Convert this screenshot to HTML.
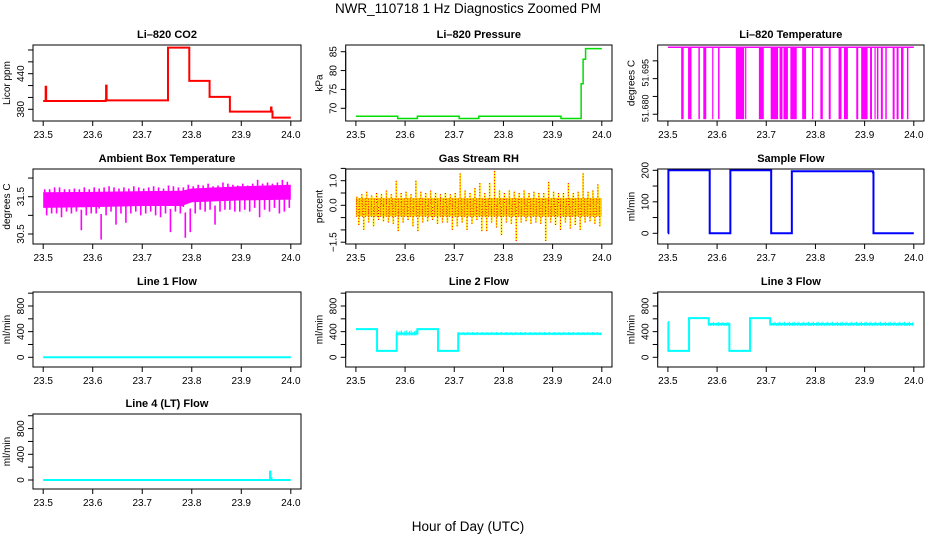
<!DOCTYPE html>
<html><head><meta charset="utf-8"><style>
html,body{margin:0;padding:0;background:#fff}
svg text{font-family:"Liberation Sans",sans-serif;fill:#000}
</style></head><body>
<svg id="c" width="936" height="540" viewBox="0 0 936 540" xmlns="http://www.w3.org/2000/svg">
<text x="468" y="13" font-size="13.5" text-anchor="middle">NWR_110718  1 Hz Diagnostics Zoomed PM</text>
<text x="468" y="531" font-size="13.5" text-anchor="middle">Hour of Day (UTC)</text>
</svg>
<script>
// ---- data ----
const xTicks = [23.5, 23.6, 23.7, 23.8, 23.9, 24.0];
const xTickLabels = ["23.5", "23.6", "23.7", "23.8", "23.9", "24.0"];
const co2X = [23.5, 23.504, 23.505, 23.506, 23.626, 23.627, 23.628, 23.752, 23.795, 23.836, 23.877, 23.96, 23.961, 23.963, 24.0];
const co2Y = [394, 394, 418, 394, 395, 420, 395, 484, 428, 401, 376, 383, 376, 366, 366];
const presX = [23.5, 23.585, 23.625, 23.71, 23.75, 23.917, 23.958, 23.962, 23.967, 24.0];
const presY = [67.9, 67.3, 67.9, 67.3, 67.9, 67.3, 76.5, 83, 85.8, 85.8];
const ltempHigh = 51.7057;
const ltempLow = 51.6754;
const ltempDropStart = [23.527,23.541,23.562,23.572,23.590,23.602,23.638,23.657,23.685,23.709,23.727,23.735,23.749,23.773,23.793,23.810,23.827,23.847,23.858,23.883,23.893,23.911,23.920,23.925,23.933,23.942,23.957,23.965,23.974,23.986];
const ltempDropEnd   = [23.532,23.548,23.565,23.578,23.592,23.605,23.655,23.659,23.695,23.724,23.733,23.744,23.762,23.781,23.795,23.815,23.831,23.853,23.866,23.887,23.906,23.915,23.922,23.928,23.937,23.945,23.961,23.969,23.979,23.989];
const ambMax = [31.7,31.7,31.75,31.75,31.7,31.7,31.72,31.7,31.75,31.7,31.75,31.72,31.75,31.78,31.75,31.72,31.75,31.72,31.78,31.75,31.72,31.75,31.78,31.75,31.72,31.8,31.78,31.75,31.75,31.82,31.78,31.82,31.8,31.85,31.78,31.8,31.88,31.85,31.82,31.8,31.85,31.8,31.85,31.95,31.85,31.88,31.85,31.88,31.95,31.9];
const ambMin = [31.0,31.05,31.05,30.95,31.1,31.05,31.1,30.6,31.0,31.05,31.05,30.35,31.0,31.1,30.75,31.05,30.8,31.05,31.1,31.0,31.05,31.1,31.0,30.95,31.05,30.55,31.1,31.05,30.4,30.55,31.05,31.15,31.1,31.15,30.75,31.1,31.15,31.15,31.1,31.1,31.15,31.1,31.2,30.95,31.15,31.1,31.2,31.05,31.1,31.2];
const ambCoreX = [23.5,23.6,23.7,23.78,23.8,23.9,24.0];
const ambCoreLo = [31.2,31.22,31.25,31.25,31.35,31.4,31.42];
const ambCoreHi = [31.62,31.63,31.65,31.66,31.72,31.78,31.82];
const rhMax = [0.35,0.45,0.55,0.4,0.5,0.45,0.6,0.45,1.0,0.5,0.55,0.45,1.0,0.55,0.5,0.6,0.5,0.45,0.5,0.45,0.5,1.3,0.6,0.5,0.7,0.9,0.5,0.9,1.4,0.6,0.5,0.6,0.55,0.5,0.6,0.5,0.55,0.5,0.5,0.95,0.55,0.5,0.5,0.9,0.5,0.55,1.3,0.55,0.6,0.85];
const rhMin = [-0.8,-1.0,-0.7,-0.85,-0.6,-0.65,-0.7,-0.75,-1.05,-0.7,-0.6,-0.85,-1.05,-0.7,-0.65,-0.6,-0.75,-0.7,-0.7,-1.0,-0.85,-0.7,-1.0,-0.75,-0.6,-1.05,-1.05,-0.7,-0.9,-1.2,-0.7,-0.75,-1.45,-0.7,-0.65,-0.75,-0.7,-0.75,-1.45,-0.7,-0.8,-1.0,-0.7,-0.95,-0.8,-1.0,-0.7,-0.65,-0.75,-0.85];
const rhCoreLo = -0.45;
const rhCoreHi = 0.3;
const sfX = [23.5, 23.501, 23.583, 23.585, 23.625, 23.627, 23.708, 23.71, 23.75, 23.752, 23.917, 23.918, 24.0];
const sfY = [0, 200, 200, 0, 0, 200, 200, 0, 0, 197, 193, 0, 0];
const l1X = [23.5, 24.0];
const l1Y = [0, 0];
const l2X = [23.5, 23.543, 23.583, 23.625, 23.667, 23.708, 24.0];
const l2Y = [440, 100, 370, 440, 100, 370, 370];
const l2BandStart = [23.583, 23.708];
const l2BandEnd = [23.625, 24.0];
const l2BandLo = [340, 345];
const l2BandHi = [420, 395];
const l3X = [23.5, 23.501, 23.543, 23.583, 23.625, 23.667, 23.708, 24.0];
const l3Y = [550, 100, 610, 520, 100, 610, 520, 520];
const l3BandStart = [23.583, 23.708];
const l3BandEnd = [23.625, 24.0];
const l3BandLo = [490, 490];
const l3BandHi = [550, 555];
const l4X = [23.5, 23.957, 23.958, 23.959, 23.961, 24.0];
const l4Y = [0, 0, 130, 30, 0, 0];

// ---- layout ----
const NS = "http://www.w3.org/2000/svg";
const svg = document.getElementById('c');
const cols = [[33,301],[345.7,612],[657.7,924]];
const rows = [[45,121],[169,244],[292,367],[414,489]];
function mk(tag, attrs, parent){ const e=document.createElementNS(NS,tag); for(const k in attrs) e.setAttribute(k,attrs[k]); (parent||svg).appendChild(e); return e; }

function panel(ci, ri, name, title, ylab, a1, a2, yTicks, yLabels, yfs){
  const [L,R]=cols[ci], [T,B]=rows[ri];
  const g=mk('g',{});
  
  
  const x0=L+10.2, xs=(R-L-20.4)/0.5;
  const xf=v=>x0+(v-23.5)*xs;
  const yf=v=>a1[1]+(v-a1[0])*(a2[1]-a1[1])/(a2[0]-a1[0]);
  const plot=mk('g',{},g);
  
  
  const box=mk('rect',{x:L,y:T,width:R-L,height:B-T,fill:'none',stroke:'#000','stroke-width':1},g);
  
  
  const t=mk('text',{x:(L+R)/2,y:T-7,'font-size':11,'font-weight':'bold','text-anchor':'middle'},g);
  t.textContent=title;
  
  
  const yl=mk('text',{transform:`translate(${L-23},${(T+B)/2}) rotate(-90)`,'font-size':10,'text-anchor':'middle'},g);
  yl.textContent=ylab;
  
  
  const xa=mk('g',{stroke:'#000','stroke-width':1},g);
  
  
  mk('line',{x1:xf(xTicks[0]),x2:xf(xTicks[xTicks.length-1]),y1:B,y2:B},xa);
  xTicks.forEach((v,i)=>{
    mk('line',{x1:xf(v),x2:xf(v),y1:B,y2:B+5},xa);
    const tl=mk('text',{x:xf(v),y:B+17,'font-size':10,'text-anchor':'middle',stroke:'none'},g);
    tl.textContent=xTickLabels[i];
    
    
  });
  const ya=mk('g',{stroke:'#000','stroke-width':1},g);
  
  
  yTicks.forEach(v=>mk('line',{x1:L-5,x2:L,y1:yf(v),y2:yf(v)},ya));
  mk('line',{x1:L,x2:L,y1:Math.min(yf(yTicks[0]),yf(yTicks[yTicks.length-1])),y2:Math.max(yf(yTicks[0]),yf(yTicks[yTicks.length-1]))},ya);
  yLabels.forEach(([v,s])=>{
    const tl=mk('text',{transform:`translate(${L-9},${yf(v)}) rotate(-90)`,'font-size':yfs||10,'text-anchor':'middle'},g);
    tl.textContent=s;
    
    
  });
  return {xf,yf,plot};
}
function stepPath(p, xs, ys, color, w, nm){
  let d=`M${p.xf(xs[0])},${p.yf(ys[0])}`;
  for(let i=1;i<xs.length;i++){ d+=`H${p.xf(xs[i])}V${p.yf(ys[i])}`; }
  const e=mk('path',{d,fill:'none',stroke:color,'stroke-width':w},p.plot);
  
  
}
function bands(p, s, e2, lo, hi, color, nm){
  for(let i=0;i<s.length;i++){
    const x1=p.xf(s[i]), x2=p.xf(e2[i]);
    let d='';
    for(let x=x1;x<=x2;x+=1.6){ const k=Math.round((x-x1)/1.6)%3; const top=k===0?hi[i]:(k===1?(hi[i]+lo[i])/2+10:hi[i]-10); d+=`M${x},${p.yf(lo[i])}V${p.yf(top)}`; }
    const el=mk('path',{d,stroke:color,'stroke-width':1,fill:'none'},p.plot);
    
    
  }
}

let p=panel(0,0,'co2','Li–820 CO2','Licor ppm',[380,109.3],[440,73.7],[380,400,420,440,460,480],[[380,'380'],[440,'440']]);
stepPath(p,co2X,co2Y,'#ff0000',2,'co2-line');
p=panel(1,0,'pressure','Li–820 Pressure','kPa',[70,108.3],[85,51.7],[70,75,80,85],[[70,'70'],[75,'75'],[80,'80'],[85,'85']]);
stepPath(p,presX,presY,'#00dd00',1.5,'pressure-line');
p=panel(2,0,'licor-temp','Li–820 Temperature','degrees C',[51.680,108.3],[51.695,72.7],[51.6775,51.685,51.6925,51.700],[[51.680,'51.680'],[51.695,'51.695']],9);
{
  const yH=p.yf(ltempHigh), yLo=p.yf(ltempLow);
  const top=mk('line',{x1:p.xf(23.5),x2:p.xf(24.0),y1:yH,y2:yH,stroke:'#ff00ff','stroke-width':1.5},p.plot);
  
  
  for(let i=0;i<ltempDropStart.length;i++){
    const x1=p.xf(ltempDropStart[i]), x2=p.xf(ltempDropEnd[i]);
    const r=mk('rect',{x:x1,y:yH,width:Math.max(x2-x1,1.2),height:yLo-yH,fill:'#ff00ff'},p.plot);
    
    
  }
}
p=panel(0,1,'ambient-temp','Ambient Box Temperature','degrees C',[31.5,196.7],[30.5,234],[30.5,31.0,31.5,32.0],[[30.5,'30.5'],[31.5,'31.5']]);
{
  let d=`M${p.xf(ambCoreX[0])},${p.yf(ambCoreHi[0])}`;
  for(let i=1;i<ambCoreX.length;i++) d+=`L${p.xf(ambCoreX[i])},${p.yf(ambCoreHi[i])}`;
  for(let i=ambCoreX.length-1;i>=0;i--) d+=`L${p.xf(ambCoreX[i])},${p.yf(ambCoreLo[i])}`;
  const c=mk('path',{d:d+'Z',fill:'#ff00ff'},p.plot);
  
  
  let s='';
  ambMax.forEach((v,i)=>{ const xa=p.xf(23.5+i*0.01+0.003), xb=p.xf(23.5+i*0.01+0.007);
    s+=`M${xa},${p.yf(v)}V${p.yf((v+ambMin[i])/2+0.15)}M${xb},${p.yf(ambMin[i])}V${p.yf((v+ambMin[i])/2)}`; });
  const sp=mk('path',{d:s,stroke:'#ff00ff','stroke-width':1.6,fill:'none'},p.plot);
  
  
}
p=panel(1,1,'gas-rh','Gas Stream RH','percent',[0,205.3],[1.0,180.7],[-1.5,-1.0,-0.5,0,0.5,1.0,1.5],[[1.0,'1.0'],[0,'0.0'],[-1.5,'−1.5']]);
{
  const r=mk('rect',{x:p.xf(23.5),y:p.yf(rhCoreHi),width:p.xf(24)-p.xf(23.5),height:p.yf(rhCoreLo)-p.yf(rhCoreHi),fill:'#ffcc00'},p.plot);
  
  
  let s='';
  rhMax.forEach((v,i)=>{ const xa=p.xf(23.5+i*0.01+0.002), xb=p.xf(23.5+i*0.01+0.006);
    s+=`M${xa},${p.yf(v)}V${p.yf(0)}M${xb},${p.yf(rhMin[i])}V${p.yf(0)}`; });
  const y1=mk('path',{d:s,stroke:'#ffee00','stroke-width':1.8,fill:'none'},p.plot);
  
  
  const y2=mk('path',{d:s,stroke:'#ff0000','stroke-width':1,fill:'none','stroke-dasharray':'1 2'},p.plot);
  
  
  let h='';
  for(let v=rhCoreLo;v<=rhCoreHi;v+=0.1) h+=`M${p.xf(23.5)},${p.yf(v)}H${p.xf(24)}`;
  const y3=mk('path',{d:h,stroke:'#ee3300','stroke-width':1,fill:'none','stroke-dasharray':'1 2'},p.plot);
  
  
}
p=panel(2,1,'sample-flow','Sample Flow','ml/min',[0,233.3],[200,170.3],[0,50,100,150,200],[[0,'0'],[100,'100'],[200,'200']]);
stepPath(p,sfX,sfY,'#0000ff',2,'sample-flow-line');
const flowTicks=[0,200,400,600,800,1000];
const flowLabels=[[0,'0'],[400,'400'],[800,'800']];
p=panel(0,2,'line1-flow','Line 1 Flow','ml/min',[0,357.3],[800,306],flowTicks,flowLabels);
stepPath(p,l1X,l1Y,'#00ffff',2,'line1-flow-line');
p=panel(1,2,'line2-flow','Line 2 Flow','ml/min',[0,357.3],[800,306],flowTicks,flowLabels);
stepPath(p,l2X,l2Y,'#00ffff',2,'line2-flow-line');
bands(p,l2BandStart,l2BandEnd,l2BandLo,l2BandHi,'#00ffff','line2-flow-noise');
p=panel(2,2,'line3-flow','Line 3 Flow','ml/min',[0,357.3],[800,306],flowTicks,flowLabels);
stepPath(p,l3X,l3Y,'#00ffff',2,'line3-flow-line');
bands(p,l3BandStart,l3BandEnd,l3BandLo,l3BandHi,'#00ffff','line3-flow-noise');
p=panel(0,3,'line4-flow','Line 4 (LT) Flow','ml/min',[0,480],[800,428.6],flowTicks,flowLabels);
stepPath(p,l4X,l4Y,'#00ffff',2,'line4-flow-line');
</script>
</body></html>
